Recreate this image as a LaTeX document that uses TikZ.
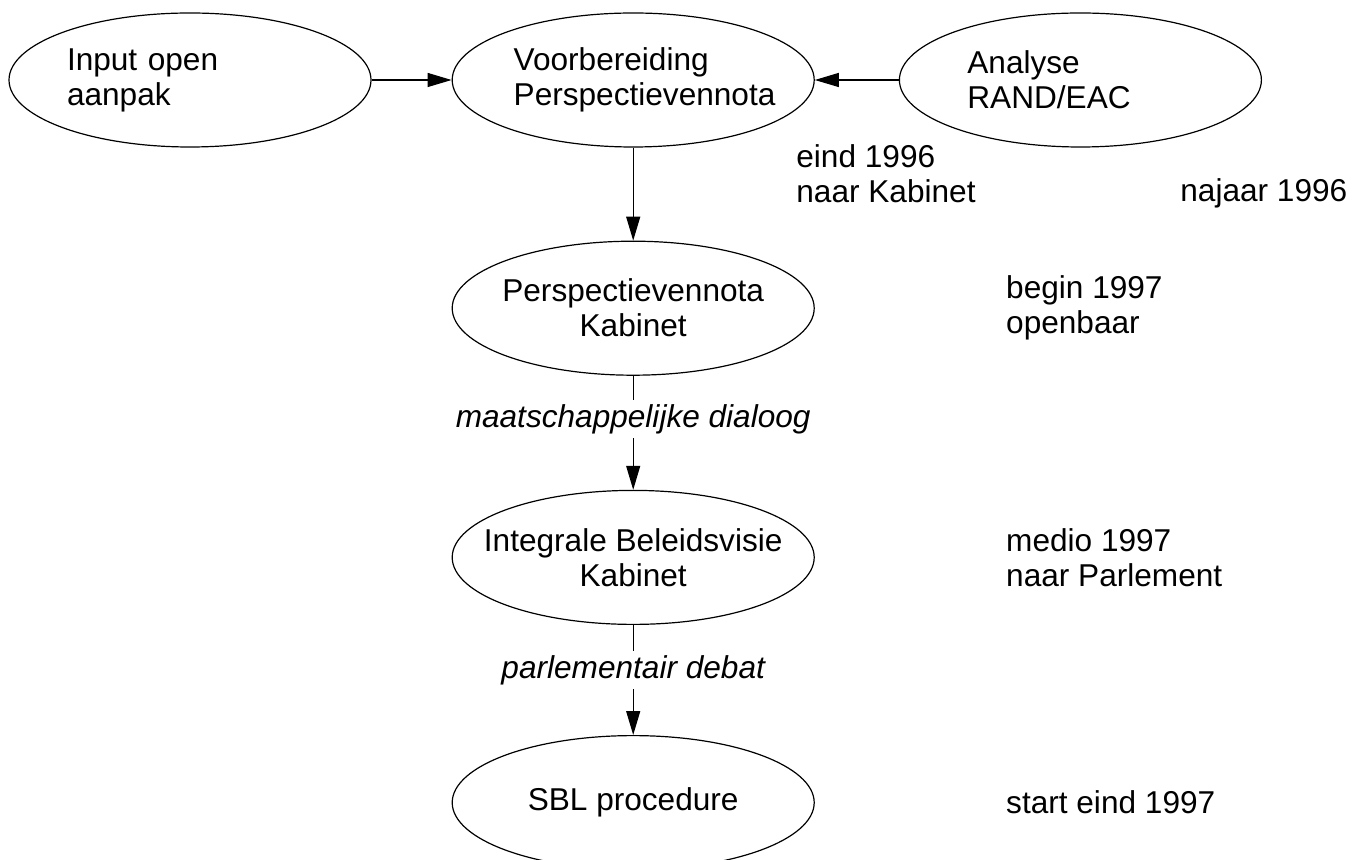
\documentclass[tikz,border=0pt]{standalone}
\usepackage{fontspec}
\setmainfont{Liberation Sans}
\usetikzlibrary{positioning,arrows.meta,shapes.geometric}

\begin{document}
\begin{tikzpicture}[
			x=0.5pt, y=-0.5pt,
			every node/.style={font=\fontsize{15.8}{17.5}\selectfont},
			stage/.style={
				draw,
				ellipse,
				line width=0.6pt,
				minimum width=181pt,
				minimum height=67pt,
				inner xsep=-20pt,
				inner ysep=0pt,
				align=center
			},
			topstage/.style={stage, align=left, text width=#1},
			phase/.style={font=\fontsize{15.8}{17.5}\selectfont\itshape, inner sep=2pt},
			note/.style={anchor=west, inner sep=0pt, align=left},
			arrow/.style={-{Triangle[length=12pt,width=7pt]}, line width=0.6pt}
			]
			\useasboundingbox (0,0) rectangle (1354,860);
			
			\node[topstage=123pt] (input) at (190,80) {Input open\\aanpak};
			\node[topstage=119.5pt,right=40pt of input] (prep) {Voorbereiding\\Perspectievennota};
			\node[topstage=113pt,right=42pt of prep] (rand) {Analyse\\RAND/EAC};
			\node[stage,below=46.5pt of prep] (nota) {Perspectievennota\\Kabinet};
			\node[phase,below=12pt of nota] (dialoog) {maatschappelijke dialoog};
			\node[stage,below=57pt of nota] (visie) {Integrale Beleidsvisie\\Kabinet};
			\node[phase,below=13pt of visie] (debat) {parlementair debat};
			\node[stage,below=55pt of visie] (sbl) {SBL procedure};
			
			% tijdpad
			\node[note] (t1) at (796,174) {eind 1996\\naar Kabinet};
			\node[note] (t2) at (1180,193) {najaar 1996};
			\node[note,right=95.5pt of nota] (t3) {begin 1997\\openbaar};
			\node[note,right=95.5pt of visie] (t4) {medio 1997\\naar Parlement};
			\node[note,right=95.5pt of sbl] (t5) {start eind 1997};
			
			\draw[arrow] (input) -- (prep);
			\draw[arrow] (rand) -- (prep);
			\draw[arrow] (prep) -- (nota);
			\draw[line width=0.6pt] (nota) -- (dialoog);
			\draw[arrow] (dialoog) -- (visie);
			\draw[line width=0.6pt] (visie) -- (debat);
			\draw[arrow] (debat) -- (sbl);
			
		\end{tikzpicture}
\end{document}
